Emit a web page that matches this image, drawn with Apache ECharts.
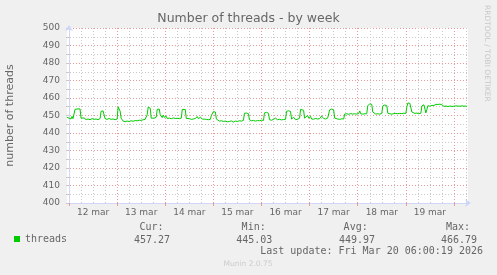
<!DOCTYPE html>
<html>
<head>
<meta charset="utf-8">
<script src="https://cdn.jsdelivr.net/npm/echarts@6/dist/echarts.min.js"></script>
<style>
html,body{margin:0;padding:0;background:#f0f0f0;}
#chart{width:497px;height:275px;}
</style>
</head>
<body>
<div id="chart"></div>
<script>
// x values: hours since 12 mar 00:00
var threadsDay12 = [[-1,449],[0,448.5],[0.5,449.3],[1,448],[1.5,449.5],[2,448.2],[2.5,448.5],[3,453.5],[3.5,453.9],[4.5,453.8],[5.5,453.7],[6,448.5],[6.5,448],[7.5,448.6],[8.5,447.7],[9.5,448],[10.5,447.6],[11.5,448.2],[12.5,447.8],[13.5,448],[14.5,447.6],[15.5,448.3],[16,452.4],[17,452.6],[17.5,452.3],[18,448.2],[19,447.8],[20,448.3],[21,447.8],[22,448],[23,447.6]];
var threadsDay13 = [[24,448],[24.5,454.9],[25.5,452.5],[26,448.5],[26.5,447.5],[27,446.8],[28,446.5],[29,446.8],[30,446.6],[31,447],[32,446.7],[33,447.1],[34,447],[35,447.3],[36,447.2],[37,447.6],[38,447.8],[39,450.5],[39.5,454.8],[40.5,454.2],[41,448.5],[41.5,448],[42.5,448.5],[43.5,449],[44,453.5],[45,453.7],[45.5,450.5],[46,451.2],[46.5,448.8],[47,450.3],[47.5,449]];
var threadsDay14 = [[48.5,449.5],[49,448.3],[50,448.5],[51,448.2],[52,448.6],[53,448.3],[54,448.4],[55,448.2],[56,448.5],[56.5,453.5],[57,453.7],[58,453.4],[58.5,448.3],[59,448],[60,448.2],[61,447.8],[62,448],[63,448.3],[64,449.4],[64.5,448.2],[65.5,449],[66.5,448],[67.5,447.9],[68.5,447.8],[69.5,447.6],[70.5,447.8],[71,450]];
var threadsDay15 = [[72,452.2],[73,452],[73.5,448],[74,447],[75,446.8],[76,447],[77,446.6],[78,446.8],[79,446.4],[80,446.6],[81,446.9],[82,446.2],[83,446.8],[84,446.6],[85,447],[86,446.8],[87,447.2],[87.5,451.3],[88.5,451.4],[89.5,451],[90,447.5],[91,447],[92,447.2],[93,446.8],[94,447.1],[95,447]];
var threadsDay16 = [[96,447.3],[97,447.2],[97.5,451.5],[98.5,451.8],[99.5,451.3],[100,447.6],[101,447.3],[102,447.8],[103,448.5],[104,447.6],[105,447.8],[106,447.5],[107,447.7],[108,447.8],[108.5,452.4],[109.5,452.7],[110.5,452.3],[111,448],[111.5,447.7],[112,449],[113,447.6],[114,447.8],[115,448.5],[115.5,453.5],[116,453.6],[117,453],[117.5,448.5],[118,449],[119,450],[119.5,448.5]];
var threadsDay17 = [[120.5,449.5],[121,448],[122,447.9],[123,448.3],[124,448],[125,448.2],[126,449.7],[127,448.3],[128,448],[129,448.5],[130,453.2],[131,453.7],[132,453.2],[132.5,448.5],[133,448],[134,448],[135,447.8],[136,448.1],[137,448],[137.5,450.8],[138.5,451],[139.5,450.7],[140.5,451.1],[141.5,450.8],[142.5,451],[143.5,450.8]];
var threadsDay18 = [[144.5,451.2],[145,452.6],[145.5,451],[146.5,450.8],[147.5,451],[148.5,451],[149,455.5],[150,456.7],[151,456.3],[151.5,452],[152,451],[153,450.8],[154,451],[155,450.8],[156,451.2],[156.5,455.5],[157.5,456],[158.5,455.6],[159,451.3],[160,451],[161,450.8],[162,451.1],[163,451.2],[164,451],[165,451.2],[166,451.1],[167,451.3]];
var threadsDay19 = [[168,451.2],[168.5,455],[169,457.1],[170,457],[171,452],[171.5,451],[172.5,451.2],[173.5,451.4],[174.5,451],[175.5,451.3],[176,455.5],[177,456.1],[177.5,455],[178,451.5],[178.5,453.5],[179,455.6],[180,455.3],[181,455.8],[182,455.7],[183,456.4],[184,456.3],[185,456.5],[186,456.1],[187,455.2],[188,455.4],[189,455.1],[190,455.4],[191,455.2]];
var threadsDay20 = [[192,455.3],[193,455.5],[193.5,456.6],[194,455.4],[195,455.3],[196,455.5],[197,455.3],[198,455.4],[198.5,455.3]];

var dayLabels = ['12 mar','13 mar','14 mar','15 mar','16 mar','17 mar','18 mar','19 mar'];
var dayLabelHours = [12,36,60,84,108,132,156,180];
var dayStartHours = [0,24,48,72,96,120,144,168,192];
var sixHourMarks = [6,12,18,30,36,42,54,60,66,78,84,90,102,108,114,126,132,138,150,156,162,174,180,186,198];

var seriesName = 'threads';
var statLabels = ['Cur:','Min:','Avg:','Max:'];
var statValues = ['457.27','445.03','449.97','466.79'];
var lastUpdate = 'Last update: Fri Mar 20 06:00:19 2026';

var threadsData = [].concat(threadsDay12, threadsDay13, threadsDay14, threadsDay15, threadsDay16, threadsDay17, threadsDay18, threadsDay19, threadsDay20);

var FONT = 'DejaVu Sans';
var MONO = 'DejaVu Sans Mono';
var TXT = '#666666';
var AXIS = '#CFD6F8';
var MGRID = '#e89a9a';
var GRID = '#c8c8c8';

var chart = echarts.init(document.getElementById('chart'), null, {renderer: 'canvas'});

var statRightLabel = [163.5, 265.7, 367.7, 470];
var statRightValue = [170, 272.3, 375, 477];
var graphics = [
  {type: 'text', x: 10, y: 115.5, rotation: Math.PI / 2,
   style: {text: 'number of threads', font: '11px "DejaVu Sans"', fill: TXT, align: 'center', verticalAlign: 'middle'}},
  {type: 'text', x: 487, y: 5, rotation: -Math.PI / 2,
   style: {text: 'RRDTOOL / TOBI OETIKER', font: '7.5px "DejaVu Sans"', fill: '#c8c8c8', align: 'left', verticalAlign: 'middle'}},
  {type: 'text', x: 248, y: 264,
   style: {text: 'Munin 2.0.75', font: '7.5px "DejaVu Sans"', fill: '#cccccc', align: 'center', verticalAlign: 'middle'}},
  {type: 'text', x: 483, y: 251,
   style: {text: lastUpdate, font: '10px "DejaVu Sans Mono"', fill: TXT, align: 'right', verticalAlign: 'middle'}}
];
for (var i = 0; i < statLabels.length; i++) {
  graphics.push({type: 'text', x: statRightLabel[i], y: 227.7,
    style: {text: statLabels[i], font: '10px "DejaVu Sans Mono"', fill: TXT, align: 'right', verticalAlign: 'middle'}});
  graphics.push({type: 'text', x: statRightValue[i], y: 240,
    style: {text: statValues[i], font: '10px "DejaVu Sans Mono"', fill: TXT, align: 'right', verticalAlign: 'middle'}});
}

chart.setOption({
  animation: false,
  backgroundColor: '#f0f0f0',
  title: {
    text: 'Number of threads - by week',
    left: 'center', top: 12, padding: 0,
    textStyle: {fontFamily: FONT, fontSize: 12.5, fontWeight: 'normal', color: TXT}
  },
  legend: {
    left: 14, top: 234, padding: 0,
    icon: 'rect', itemWidth: 6, itemHeight: 6,
    data: [seriesName],
    textStyle: {fontFamily: MONO, fontSize: 10, color: TXT}
  },
  grid: {left: 67, top: 28, right: 29, bottom: 72, show: true, backgroundColor: '#ffffff', borderWidth: 0},
  xAxis: [
    {
      type: 'value', min: -1, max: 199,
      axisLine: {show: true, lineStyle: {color: AXIS, width: 1}, symbol: ['none', 'arrow'], symbolSize: [6, 6], symbolOffset: [0, 3]},
      axisTick: {show: false, customValues: sixHourMarks},
      axisLabel: {show: false},
      splitLine: {show: true, lineStyle: {color: GRID, type: [1, 2], width: 1}}
    },
    {
      type: 'value', min: -1, max: 199, position: 'bottom',
      axisLine: {show: false},
      axisTick: {show: true, length: 3, inside: false, customValues: dayStartHours, lineStyle: {color: MGRID}},
      axisLabel: {
        show: true, margin: 5, customValues: dayLabelHours,
        fontFamily: FONT, fontSize: 9, color: TXT,
        formatter: function (v) { var k = dayLabelHours.indexOf(v); return k >= 0 ? dayLabels[k] : ''; }
      },
      splitLine: {show: true, lineStyle: {color: MGRID, type: [1, 2], width: 1}}
    }
  ],
  yAxis: {
    type: 'value', min: 400, max: 500, interval: 10,
    axisLine: {show: true, lineStyle: {color: AXIS, width: 1}, symbol: ['none', 'arrow'], symbolSize: [6, 6], symbolOffset: [0, 3]},
    axisTick: {show: true, length: 3, lineStyle: {color: '#c8c8c8'}},
    minorTick: {show: true, splitNumber: 2, length: 3, lineStyle: {color: '#c8c8c8'}},
    axisLabel: {margin: 7, fontFamily: FONT, fontSize: 9, color: TXT},
    splitLine: {show: true, lineStyle: {color: MGRID, type: [1, 2], width: 1}},
    minorSplitLine: {show: true, lineStyle: {color: GRID, type: [1, 2], width: 1}}
  },
  series: [{
    name: seriesName, type: 'line', xAxisIndex: 0,
    data: threadsData, showSymbol: false, symbol: 'none',
    color: '#00cc00',
    lineStyle: {color: '#00cc00', width: 1},
    z: 5
  }],
  graphic: graphics
});
</script>
</body>
</html>
